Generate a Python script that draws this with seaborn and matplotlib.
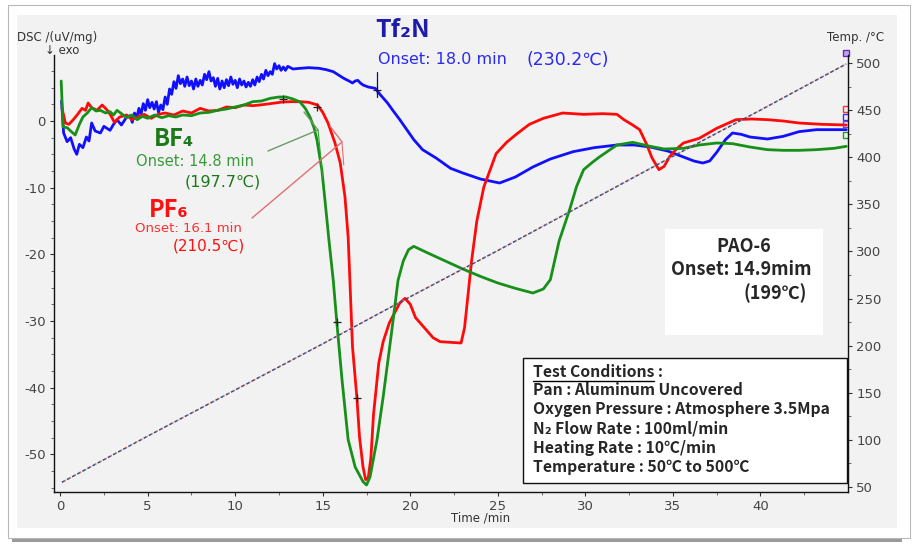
import numpy as np
import pandas as pd
import seaborn as sns
import matplotlib.pyplot as plt
from matplotlib.patches import Rectangle

# DSC traces (time in min, DSC in uV/mg)
tf2n_time = [0.08, 0.2, 0.4, 0.6, 0.8, 0.95, 1.1, 1.3, 1.5, 1.65, 1.8, 2.0, 2.3, 2.5, 2.85,
             3.05, 3.25, 3.5, 3.8,
             4.0, 4.12, 4.25, 4.37, 4.5, 4.62, 4.75, 4.87, 5.0, 5.12, 5.25, 5.37, 5.5, 5.62,
             5.75, 5.87, 6.0, 6.12, 6.25, 6.37, 6.5, 6.62, 6.75, 6.87, 7.0, 7.12, 7.25, 7.37,
             7.5, 7.62, 7.75, 7.87, 8.0, 8.12, 8.25, 8.37, 8.5, 8.62, 8.75, 8.87, 9.0, 9.12,
             9.25, 9.37, 9.5, 9.62, 9.75, 9.87, 10.0, 10.12, 10.25, 10.37, 10.5, 10.62, 10.75,
             10.87, 11.0, 11.12, 11.25, 11.37, 11.5, 11.62, 11.75, 11.87, 12.0, 12.12, 12.25,
             12.37, 12.5, 12.62, 12.75, 12.87, 13.0,
             13.3, 13.7, 14.2, 14.8, 15.2, 15.6, 15.9, 16.2,
             16.5, 16.7, 16.85, 17.0, 17.15, 17.3, 17.6, 18.0, 18.3, 18.7, 19.0, 19.4, 19.8,
             20.2, 20.7, 21.5, 22.3, 23.0, 24.0, 25.1, 26.0, 27.0, 28.0, 29.3, 30.5, 31.8,
             32.8, 33.7, 34.7, 35.6, 36.2, 36.7, 37.1, 37.5, 38.0, 38.4, 38.9, 39.4, 40.4,
             41.3, 42.2, 43.2, 44.9]
tf2n_dsc = [3.0, -1.8, -3.1, -2.5, -4.2, -5.0, -3.5, -4.0, -2.4, -3.0, -0.3, -1.5, -1.8, -0.8, -1.4,
            -0.5, 0.2, -0.6, 0.6,
            0.8, -0.2, 1.2, 0.4, 1.9, 1.0, 2.6, 1.6, 3.2, 2.0, 2.8, 1.8, 2.9, 1.3,
            2.4, 1.7, 3.6, 2.5, 4.8, 4.0, 5.9, 4.9, 6.8, 5.6, 6.3, 5.2, 6.6, 5.3,
            6.0, 4.8, 6.3, 5.2, 6.1, 5.4, 7.0, 6.2, 7.4, 6.0, 6.5, 5.2, 6.4, 4.8,
            6.0, 5.0, 6.2, 5.3, 6.6, 5.5, 6.1, 5.0, 6.3, 5.4, 6.0, 5.1, 5.8,
            5.2, 6.2, 5.4, 6.6, 5.9, 7.0, 6.3, 7.6, 6.8, 7.4, 7.0, 8.6,
            7.8, 8.3, 7.6, 8.1, 7.6, 8.2,
            7.8, 7.9, 8.0, 7.9, 7.7, 7.4, 6.9, 6.4,
            6.0, 5.7, 6.0, 6.1, 5.7, 5.4, 5.1, 4.9, 3.9, 2.7, 1.6, 0.2, -1.3,
            -2.8, -4.3, -5.6, -7.1, -7.8, -8.7, -9.3, -8.4, -6.9, -5.7, -4.6, -4.0, -3.6,
            -3.6, -3.9, -4.5, -5.4, -6.0, -6.3, -6.0, -4.7, -2.8, -1.8, -2.0, -2.4, -2.7,
            -2.3, -1.6, -1.3, -1.3]

pf6_time = [0.1, 0.3, 0.5, 0.75, 1.0, 1.25, 1.45, 1.6, 1.8, 2.1, 2.4, 2.7, 2.9, 3.1, 3.4,
            3.8, 4.1, 4.4, 4.8, 5.2, 5.6, 6.0, 6.5, 7.0, 7.5, 8.0, 8.5, 9.0, 9.5, 10.0,
            10.5, 11.0, 11.4, 12.0, 12.7, 13.2, 13.7, 14.2, 14.7, 15.0, 15.3, 15.7, 16.0,
            16.27, 16.45, 16.55, 16.7, 16.95, 17.1, 17.3, 17.45, 17.6, 17.75, 17.9, 18.2,
            18.45, 18.8, 19.4, 19.7, 20.0, 20.3, 20.9, 21.3, 21.7, 22.3, 22.9, 23.1, 23.3,
            23.5, 23.8, 24.2, 24.9, 25.5, 26.1, 26.8, 27.6, 28.7, 29.9, 31.0, 31.8, 32.2,
            32.7, 33.1, 33.5, 33.8, 34.2, 34.5, 34.8, 35.2, 35.6, 36.5, 37.5, 38.6, 39.5,
            40.4, 41.3, 42.2, 43.5, 44.9]
pf6_dsc = [2.0, -0.3, -0.5, 0.2, 1.0, 1.9, 1.6, 2.7, 2.0, 1.6, 2.4, 1.6, 0.8, -0.2, 0.6,
           0.9, 0.2, 0.6, 1.0, 0.4, 1.0, 1.2, 0.9, 1.5, 1.2, 1.9, 1.5, 1.6, 2.1, 2.0,
           2.4, 2.3, 2.4, 2.6, 2.85, 2.9, 2.9, 2.8, 2.4, 1.3, -0.3, -3.3, -6.3,
           -11.4, -17.4, -23.9, -33.9, -41.5, -47.4, -51.9, -53.8, -53.5, -50.5, -44.0, -36.3,
           -33.1, -30.3, -27.3, -26.6, -27.5, -29.5, -31.3, -32.5, -33.1, -33.2, -33.3, -31.0, -26.0,
           -21.0, -15.0, -9.9, -4.9, -3.2, -1.9, -0.5, 0.4, 1.2, 1.0, 1.1, 1.0, 0.2,
           -0.6, -1.3, -3.5, -5.5, -7.3, -6.8, -5.4, -4.2, -3.3, -2.6, -1.1, 0.2, 0.3,
           0.2, 0.0, -0.3, -0.5, -0.6]

bf4_time = [0.06, 0.17, 0.4, 0.6, 0.86, 1.1, 1.3, 1.55, 1.8, 2.05, 2.3, 2.6, 2.85, 3.05, 3.25,
            3.5, 3.8, 4.1, 4.4, 4.7, 5.0, 5.4, 5.8, 6.2, 6.6, 7.0, 7.5, 8.0, 8.5, 9.0,
            9.5, 10.0, 10.5, 11.0, 11.5, 12.0, 12.5, 12.9, 13.3, 13.7, 14.0, 14.27, 14.5,
            14.67, 14.95, 15.2, 15.35, 15.6, 15.8, 16.1, 16.45, 16.85, 17.3, 17.5, 17.7,
            18.1, 18.45, 18.95, 19.3, 19.6, 19.9, 20.2, 21.0, 22.0, 23.0, 24.0, 25.0, 26.0,
            27.0, 27.6, 28.0, 28.5, 29.1, 29.5, 29.9, 30.4, 30.8, 31.8, 32.7, 33.7, 34.5,
            35.6, 36.5, 37.5, 38.4, 39.4, 40.4, 41.3, 42.2, 43.2, 44.2, 44.9]
bf4_dsc = [6.0, -0.9, -1.0, -1.5, -2.1, -0.5, 0.6, 1.2, 2.0, 1.5, 1.6, 1.2, 1.4, 0.9, 1.6,
           1.1, 0.5, 0.9, 0.2, 0.7, 0.4, 0.9, 0.5, 0.8, 0.6, 0.9, 0.8, 1.2, 1.3, 1.6,
           1.8, 2.1, 2.4, 2.9, 3.0, 3.4, 3.6, 3.6, 3.3, 2.85, 1.9, 0.6, -1.0,
           -2.85, -7.35, -13.8, -17.8, -23.9, -30.1, -38.8, -47.8, -51.9, -54.1, -54.6, -53.4,
           -47.8, -41.4, -31.3, -23.9, -21.0, -19.3, -18.8, -19.8, -21.0, -22.2, -23.3, -24.3, -25.1,
           -25.8, -25.2, -23.8, -18.0, -13.3, -9.8, -7.3, -6.2, -5.4, -3.6, -3.2, -3.8, -4.2,
           -4.1, -3.6, -3.3, -3.4, -3.9, -4.3, -4.4, -4.4, -4.3, -4.1, -3.8]

# furnace temperature programme (right axis)
temp_time = [0.1, 5, 10, 15, 20, 25, 30, 35, 40, 44.9]
temp_c = [55, 104, 153, 202, 252, 301, 351, 401, 450, 499]

# onset tangent points ("+" marks) and end-of-run flags
cross_time = [12.73, 14.67, 15.8, 16.95, 18.1]
cross_dsc = [3.3, 2.1, -30.1, -41.5, 4.65]
end_flag_dsc = [1.8, 0.6, -0.5, -2.1]
end_flag_colors = ["#ff3030", "#3030ff", "#8040c0", "#20a020"]

W, H = 919, 552
sns.set_theme(style="white")
plt.rcParams["font.family"] = ["DejaVu Sans"]
plt.rcParams["axes.unicode_minus"] = False
korean = ["Noto Sans CJK KR", "DejaVu Sans"]

fig = plt.figure(figsize=(W / 100, H / 100), dpi=100, facecolor="white")


def fx(px):
    return px / W


def fy(py):
    return 1 - py / H


# outer frame with a soft shadow, then the grey panel
fig.patches.append(Rectangle((fx(12), fy(542)), fx(902) - fx(12), fy(9) - fy(542),
                             transform=fig.transFigure, facecolor="#9a9a9a", edgecolor="none", zorder=0))
fig.patches.append(Rectangle((fx(8), fy(538)), fx(902), fy(5) - fy(538),
                             transform=fig.transFigure, facecolor="white", edgecolor="#b8b8b8", lw=0.8, zorder=0))
fig.patches.append(Rectangle((fx(17), fy(528)), fx(897) - fx(17), fy(15) - fy(528),
                             transform=fig.transFigure, facecolor="#f2f2f2", edgecolor="none", zorder=0))

ax = fig.add_axes([fx(54), fy(492), fx(848) - fx(54), fy(55) - fy(492)])
ax.set_facecolor("#f2f2f2")
ax2 = ax.twinx()
ax.set_zorder(2)
ax2.set_zorder(3)

# temperature ramp drawn as a two-colour dotted trace
temp_df = pd.DataFrame({"time": temp_time, "temp": temp_c})
sns.lineplot(data=temp_df, x="time", y="temp", ax=ax2, color="#3a4a8a", lw=1.1,
             linestyle=(0, (2.2, 1.6)), estimator=None, sort=False)
sns.lineplot(data=temp_df, x="time", y="temp", ax=ax2, color="#c8785a", lw=1.1,
             linestyle=(1.9, (1.0, 2.8)), estimator=None, sort=False)
ax2.plot([44.9], [511], marker="s", ms=5, mfc="#c8a0f0", mec="#6030b0", mew=1, clip_on=False)

curves = [
    (tf2n_time, tf2n_dsc, "#1010ff"),
    (pf6_time, pf6_dsc, "#ff0a0a"),
    (bf4_time, bf4_dsc, "#17901a"),
]
for t, d, c in curves:
    sns.lineplot(x=t, y=d, ax=ax, color=c, lw=2.0, estimator=None, sort=False)

for v, c in zip(end_flag_dsc, end_flag_colors):
    ax.plot([44.9], [v], marker="s", ms=4.5, mfc="none", mec=c, mew=1)

ax.plot(cross_time, cross_dsc, "+", color="#202020", ms=6, mew=0.9, zorder=5)
ax.plot([18.1, 18.1], [7.4, 3.6], color="#101060", lw=0.9, zorder=5)

# onset tangent / leader lines
ax.plot([11.87, 14.73, 13.93], [-4.5, -1.35, 1.35], color="#6a9a6a", lw=1.0)
ax.plot([14.73, 15.0], [-1.35, -8.5], color="#30a030", lw=0.8)
ax.plot([10.96, 16.1, 15.41], [-14.55, -3.15, -0.75], color="#e07070", lw=1.0)
ax.plot([16.1, 16.2], [-3.15, -6.6], color="#e07070", lw=0.8)

ax.set_xlim(-0.35, 45.0)
ax.set_ylim(-55.65, 9.9)
ax2.set_ylim(44.7, 508.5)
ax.set_xticks([0, 5, 10, 15, 20, 25, 30, 35, 40])
ax.set_xticks(np.arange(0, 45, 2.5), minor=True)
ax.set_yticks([-50, -40, -30, -20, -10, 0])
ax.set_yticks(np.arange(-55, 10, 2.5), minor=True)
ax2.set_yticks([50, 100, 150, 200, 250, 300, 350, 400, 450, 500])
ax2.set_yticks(np.arange(50, 505, 25), minor=True)
ax.set_xlabel("")
ax.set_ylabel("")
ax2.set_ylabel("")

for a in (ax, ax2):
    a.spines["top"].set_visible(False)
    for s in ("left", "right", "bottom"):
        a.spines[s].set_color("#111111")
        a.spines[s].set_linewidth(1.0)
ax.spines["right"].set_visible(False)
ax2.spines["left"].set_visible(False)
ax2.spines["bottom"].set_visible(False)
ax.tick_params(axis="both", which="major", direction="out", length=3, width=0.8,
               labelsize=9.5, labelcolor="#444444", color="#333333", pad=3,
               bottom=True, left=True)
ax.tick_params(axis="both", which="minor", direction="out", length=2, width=0.6,
               color="#555555", bottom=True, left=True)
ax2.tick_params(axis="y", which="major", direction="out", length=3, width=0.8, right=True,
                labelsize=9.5, labelcolor="#444444", color="#333333", pad=3)
ax2.tick_params(axis="y", which="minor", direction="out", length=2, width=0.6, right=True,
                color="#555555")

# axis captions
fig.text(fx(17), fy(38), "DSC /(uV/mg)", fontsize=8.5, color="#333333", va="center")
fig.text(fx(45), fy(51), "↓ exo", fontsize=8.5, color="#333333", va="center")
fig.text(fx(827), fy(37), "Temp. /°C", fontsize=8.5, color="#333333", va="center")
fig.text(fx(481), fy(518), "Time /min", fontsize=8.5, color="#333333", va="center", ha="center")

# series annotations
fig.text(fx(375), fy(30), "Tf₂N", fontsize=18, fontweight="bold", color="#1c1ca8",
         family=korean, va="center")
fig.text(fx(378), fy(60), "Onset: 18.0 min", fontsize=11.5, color="#2a2af0", va="center")
fig.text(fx(527), fy(60), "(230.2℃)", fontsize=12.5, color="#2a2af0", va="center")

fig.text(fx(154), fy(139), "BF₄", fontsize=17, fontweight="bold", color="#1a7a1a",
         family=korean, va="center")
fig.text(fx(136), fy(162), "Onset: 14.8 min", fontsize=10.5, color="#3a9a3a", va="center")
fig.text(fx(185), fy(182), "(197.7℃)", fontsize=11.5, color="#1a7a1a", va="center")

fig.text(fx(149), fy(210), "PF₆", fontsize=17, fontweight="bold", color="#ff1010",
         family=korean, va="center")
fig.text(fx(135), fy(229), "Onset: 16.1 min", fontsize=9.5, color="#ff3030", va="center")
fig.text(fx(173), fy(246), "(210.5℃)", fontsize=11, color="#ff1010", va="center")

# PAO-6 reference box
fig.patches.append(Rectangle((fx(665), fy(335)), fx(823) - fx(665), fy(229) - fy(335),
                             transform=fig.transFigure, facecolor="white", edgecolor="none", zorder=5))
fig.text(fx(744), fy(247), "PAO-6", fontsize=13, fontweight="bold", family=korean,
         ha="center", va="center", zorder=6)
fig.text(fx(741), fy(269), "Onset: 14.9mim", fontsize=13, fontweight="bold", family=korean,
         ha="center", va="center", zorder=6)
fig.text(fx(807), fy(293), "(199℃)", fontsize=13, fontweight="bold", family=korean,
         ha="right", va="center", zorder=6)

# test conditions box
fig.patches.append(Rectangle((fx(523), fy(483)), fx(847) - fx(523), fy(358) - fy(483),
                             transform=fig.transFigure, facecolor="white", edgecolor="#111111",
                             lw=1.0, zorder=5))
cond_lines = ["Test Conditions :", "Pan : Aluminum Uncovered",
              "Oxygen Pressure : Atmosphere 3.5Mpa", "N₂ Flow Rate : 100ml/min",
              "Heating Rate : 10℃/min", "Temperature : 50℃ to 500℃"]
cond_y = [372, 390, 409, 428, 448, 467]
for line, yy in zip(cond_lines, cond_y):
    fig.text(fx(533), fy(yy), line, fontsize=11.3, fontweight="bold", family=korean,
             va="center", zorder=6)
fig.lines.append(plt.Line2D([fx(533), fx(654)], [fy(381), fy(381)], transform=fig.transFigure,
                            color="black", lw=1.0, zorder=6))

fig.savefig("out.png", dpi=100, facecolor="white")
